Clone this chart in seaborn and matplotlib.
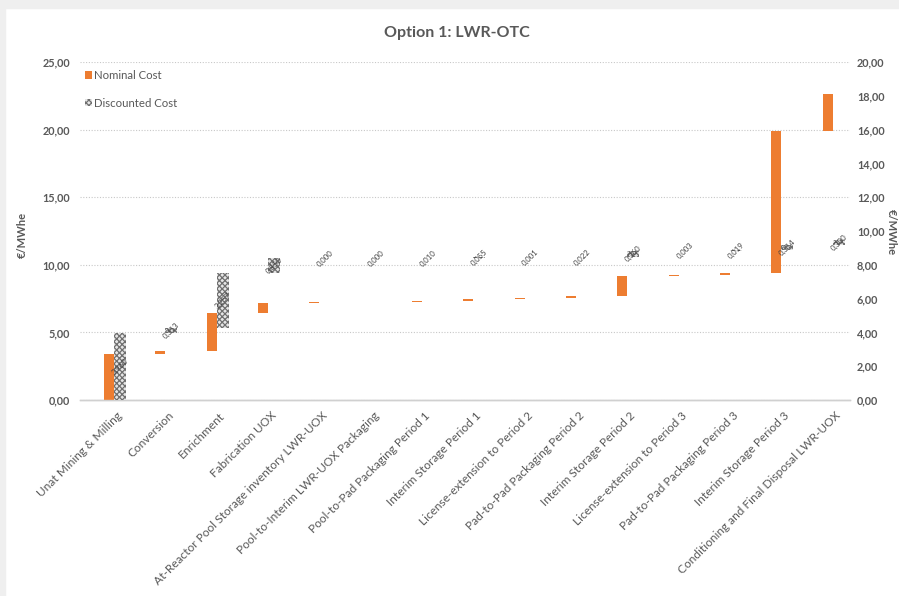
import numpy as np
import pandas as pd
import matplotlib
matplotlib.use("Agg")
import matplotlib.pyplot as plt
import seaborn as sns
from matplotlib.patches import Patch, Rectangle

# Cost steps of the once-through fuel cycle (€/MWhe)
categories = [
    "Unat Mining & Milling",
    "Conversion",
    "Enrichment",
    "Fabrication UOX",
    "At-Reactor Pool Storage inventory LWR-UOX",
    "Pool-to-Interim LWR-UOX Packaging",
    "Pool-to-Pad Packaging Period 1",
    "Interim Storage Period 1",
    "License-extension to Period 2",
    "Pad-to-Pad Packaging Period 2",
    "Interim Storage Period 2",
    "License-extension to Period 3",
    "Pad-to-Pad Packaging Period 3",
    "Interim Storage Period 3",
    "Conditioning and Final Disposal LWR-UOX",
]
nominal = [3.40, 0.20, 2.83, 0.74, 0.08, 0.00, 0.08, 0.17, 0.08, 0.08,
           1.54, 0.07, 0.10, 10.53, 2.70]
discounted = [3.960, 0.313, 3.257, 0.850, 0.000, 0.000, 0.010, 0.055, 0.001,
              0.022, 0.360, 0.003, 0.019, 0.314, 0.300]
left_ticks = [0, 5, 10, 15, 20, 25]
right_ticks = [0, 2, 4, 6, 8, 10, 12, 14, 16, 18, 20]

ORANGE = "#ED7D31"
GREY_TXT = "#595959"


def fmt(v, digits=2):
    return f"{v:.{digits}f}".replace(".", ",")


n = len(categories)
pos = np.arange(n)
nom_base = np.concatenate([[0.0], np.cumsum(nominal)[:-1]])
disc_base = np.concatenate([[0.0], np.cumsum(discounted)[:-1]])

df = pd.DataFrame({
    "x_nom": pos + 0.065,
    "x_disc": pos + 0.28,
    "nominal": nominal,
    "discounted": discounted,
})

sns.set_theme(style="white")
plt.rcParams["font.family"] = ["Lato", "DejaVu Sans"]
plt.rcParams["hatch.linewidth"] = 0.9

fig = plt.figure(figsize=(8.99, 5.96), dpi=100)
fig.patch.set_facecolor("white")
# light frame strips at the top and left edges of the canvas
fig.patches.append(Rectangle((0, 0), 5 / 899, 1, transform=fig.transFigure,
                             color="#efefef", zorder=0))
fig.patches.append(Rectangle((0, 1 - 8 / 596), 1, 8 / 596, transform=fig.transFigure,
                             color="#efefef", zorder=0))

ax = fig.add_axes([80 / 899, 1 - 400 / 596, 770 / 899, 338 / 596])
ax2 = ax.twinx()

# nominal cost: floating waterfall bars on the primary axis
sns.barplot(data=df, x="x_nom", y="nominal", native_scale=True, width=0.19,
            bottom=nom_base, color=ORANGE, saturation=1, linewidth=0,
            errorbar=None, ax=ax, zorder=3)

# discounted cost: hatched waterfall bars on the secondary axis
sns.barplot(data=df, x="x_disc", y="discounted", native_scale=True, width=0.23,
            bottom=disc_base, color="#e6e6e6", saturation=1, linewidth=0,
            edgecolor="#6f6f6f", hatch="xxxxxx", errorbar=None, ax=ax2, zorder=3)

# value labels at the middle of each discounted step
for i in range(n):
    yc = disc_base[i] + discounted[i] / 2
    ax2.text(pos[i] + 0.28, yc, fmt(discounted[i], 3), rotation=45,
             ha="center", va="center", fontsize=5.6, color="#404040", zorder=5)

ax.set_xlim(-0.5, n - 0.5)
ax2.set_xlim(-0.5, n - 0.5)
ax.set_ylim(0, 25)
ax2.set_ylim(0, 20)

ax.set_yticks(left_ticks)
ax.set_yticklabels([fmt(t) for t in left_ticks])
ax2.set_yticks(right_ticks)
ax2.set_yticklabels([fmt(t) for t in right_ticks])

ax.yaxis.grid(True, linestyle=(0, (1, 1.5)), color="#c8c8c8", linewidth=0.8)
ax.set_axisbelow(True)
ax.xaxis.grid(False)
ax2.grid(False)

# category labels end just right of each cluster's centre
ax.set_xticks(pos + 0.21)
ax.set_xticklabels(categories, rotation=45, ha="right", va="top",
                   rotation_mode="anchor", fontsize=8.6, color=GREY_TXT)
ax.set_xlabel("")
ax.set_ylabel("")
ax2.set_xlabel("")
ax2.set_ylabel("")

ax.tick_params(axis="x", length=0, pad=7)
ax.tick_params(axis="y", length=0, pad=7, labelsize=7.8, labelcolor=GREY_TXT)
ax2.tick_params(axis="y", length=0, pad=5, labelsize=7.8, labelcolor=GREY_TXT)
for lab in ax.get_yticklabels() + ax2.get_yticklabels():
    lab.set_fontweight("bold")

for a in (ax, ax2):
    for side in ("top", "left", "right"):
        a.spines[side].set_visible(False)
    a.spines["bottom"].set_color("#d0d0d0")
    a.spines["bottom"].set_linewidth(1.0)
    a.patch.set_alpha(0)

fig.text(457 / 899, 1 - 33 / 596, "Option 1: LWR-OTC", ha="center", va="center",
         fontsize=11.5, fontweight="bold", color=GREY_TXT)
fig.text(22 / 899, 1 - 235 / 596, "€/MWhe", rotation=90, ha="center", va="center",
         fontsize=8, fontweight="bold", color=GREY_TXT)
fig.text(891 / 899, 1 - 232 / 596, "€/MWhe", rotation=-90, ha="center", va="center",
         fontsize=8, fontweight="bold", color=GREY_TXT)

handles = [
    Patch(facecolor=ORANGE, edgecolor="none", label="Nominal Cost"),
    Patch(facecolor="#e6e6e6", edgecolor="#6f6f6f", hatch="xxxxxx", linewidth=0,
          label="Discounted Cost"),
]
leg = fig.legend(handles=handles, loc="upper left",
                 bbox_to_anchor=(85 / 899, 1 - 70 / 596), frameon=False,
                 fontsize=8.2, handlelength=0.6, handleheight=0.6,
                 handletextpad=0.2, labelspacing=1.45, borderpad=0,
                 borderaxespad=0)
for t in leg.get_texts():
    t.set_color(GREY_TXT)

fig.savefig("out.png", dpi=100, facecolor="white")
